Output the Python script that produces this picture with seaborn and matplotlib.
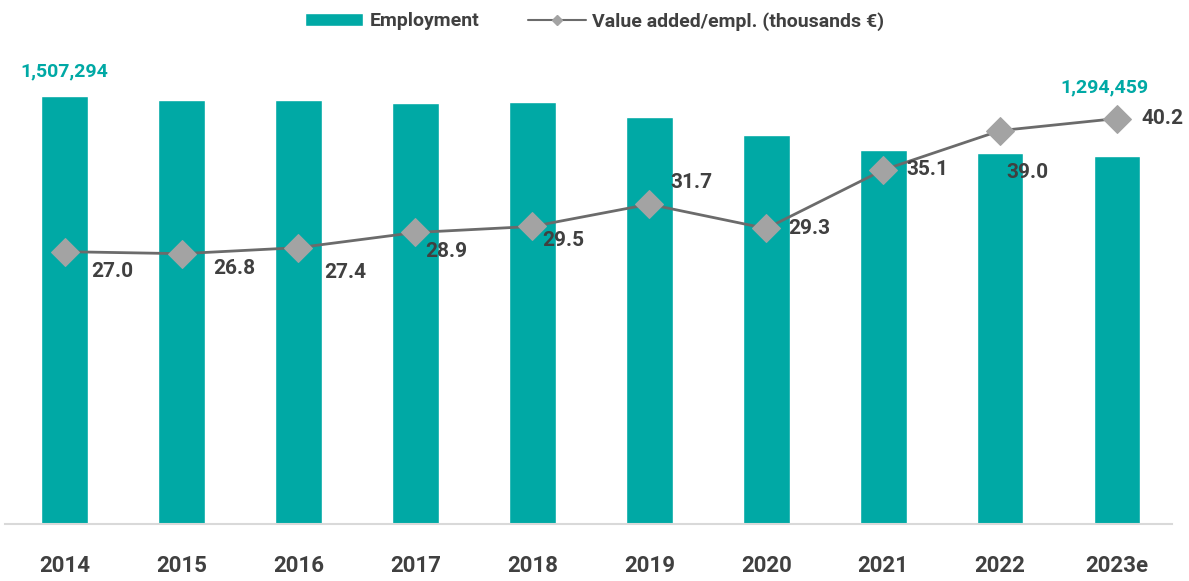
import numpy as np
import pandas as pd
import matplotlib.pyplot as plt
import seaborn as sns
from matplotlib.lines import Line2D

# data
years = ["2014", "2015", "2016", "2017", "2018", "2019", "2020", "2021", "2022", "2023e"]
employment = [1507294, 1493000, 1493000, 1482600, 1486000, 1433000, 1370000, 1317000, 1306000, 1294459]
value_added = [27.0, 26.8, 27.4, 28.9, 29.5, 31.7, 29.3, 35.1, 39.0, 40.2]

# label offsets (points) for the line labels
lab_dx = [34, 38, 34, 22, 22, 30, 31, 32, 20, 33]
lab_dy = [-14, -11, -18, -14, -10, 16, 0, 0, -30, 0]

TEAL = "#00a9a5"
GREY_LINE = "#6b6b6b"
GREY_MARK = "#a3a3a3"
TXT = "#404040"

sns.set_style("white")
plt.rcParams['font.family'] = ['Roboto', 'DejaVu Sans']
plt.rcParams['font.weight'] = 'bold'

df = pd.DataFrame({"year": years, "employment": employment,
                   "va": value_added, "pos": np.arange(len(years))})

fig = plt.figure(figsize=(11.89, 5.81), dpi=100)
ax = fig.add_axes([0.0042, 0.0981, 0.9815, 0.7986])

sns.barplot(ax=ax, data=df, x="year", y="employment", color=TEAL,
            saturation=1, width=0.40, label="Employment")
ax.set_ylim(0, 1634000)
ax.set_xlim(-0.51, 9.47)

ax2 = ax.twinx()
sns.lineplot(ax=ax2, data=df, x="pos", y="va", color=GREY_LINE, linewidth=2,
             marker="D", markersize=14, markerfacecolor=GREY_MARK,
             markeredgecolor=GREY_MARK, legend=False)
ax2.set_ylim(0, 46.0)
ax2.set_xlim(-0.51, 9.47)

for i, v in enumerate(value_added):
    ax2.annotate(f"{v:.1f}", (i, v), xytext=(lab_dx[i], lab_dy[i]),
                 textcoords="offset points", ha="center", va="center",
                 fontsize=15, color=TXT, fontweight="bold")

# first and last bar labels
ax.annotate(f"{employment[0]:,}", (0, employment[0]), xytext=(0, 18),
            textcoords="offset points", ha="center", va="center",
            fontsize=14, color=TEAL, fontweight="bold")
ax.annotate(f"{employment[-1]:,}", (len(years) - 1, employment[-1]), xytext=(-9, 50),
            textcoords="offset points", ha="center", va="center",
            fontsize=14, color=TEAL, fontweight="bold")

for a in (ax, ax2):
    a.set_xlabel("")
    a.set_ylabel("")
    a.set_yticks([])
    for s in a.spines.values():
        s.set_visible(False)
ax.spines["bottom"].set_visible(True)
ax.spines["bottom"].set_color("#d9d9d9")
ax.spines["bottom"].set_linewidth(1.5)
ax.tick_params(axis="x", length=0, pad=22, labelsize=16, labelcolor=TXT)
for t in ax.get_xticklabels():
    t.set_fontweight("bold")

# combined legend on top
h1, l1 = ax.get_legend_handles_labels()
if ax.get_legend():
    ax.get_legend().remove()
h2 = [Line2D([], [], color=GREY_LINE, linewidth=1.5, marker="D", markersize=5,
             markerfacecolor=GREY_MARK, markeredgecolor=GREY_MARK)]
l2 = ["Value added/empl. (thousands \u20ac)"]
fig.legend(h1 + h2, l1 + l2, loc="upper center", bbox_to_anchor=(0.5, 1.01),
           ncol=2, frameon=False, fontsize=14, handlelength=3.0,
           columnspacing=2.5, handletextpad=0.3, labelcolor=TXT)

fig.savefig("out.png", dpi=100)
plt.close()
